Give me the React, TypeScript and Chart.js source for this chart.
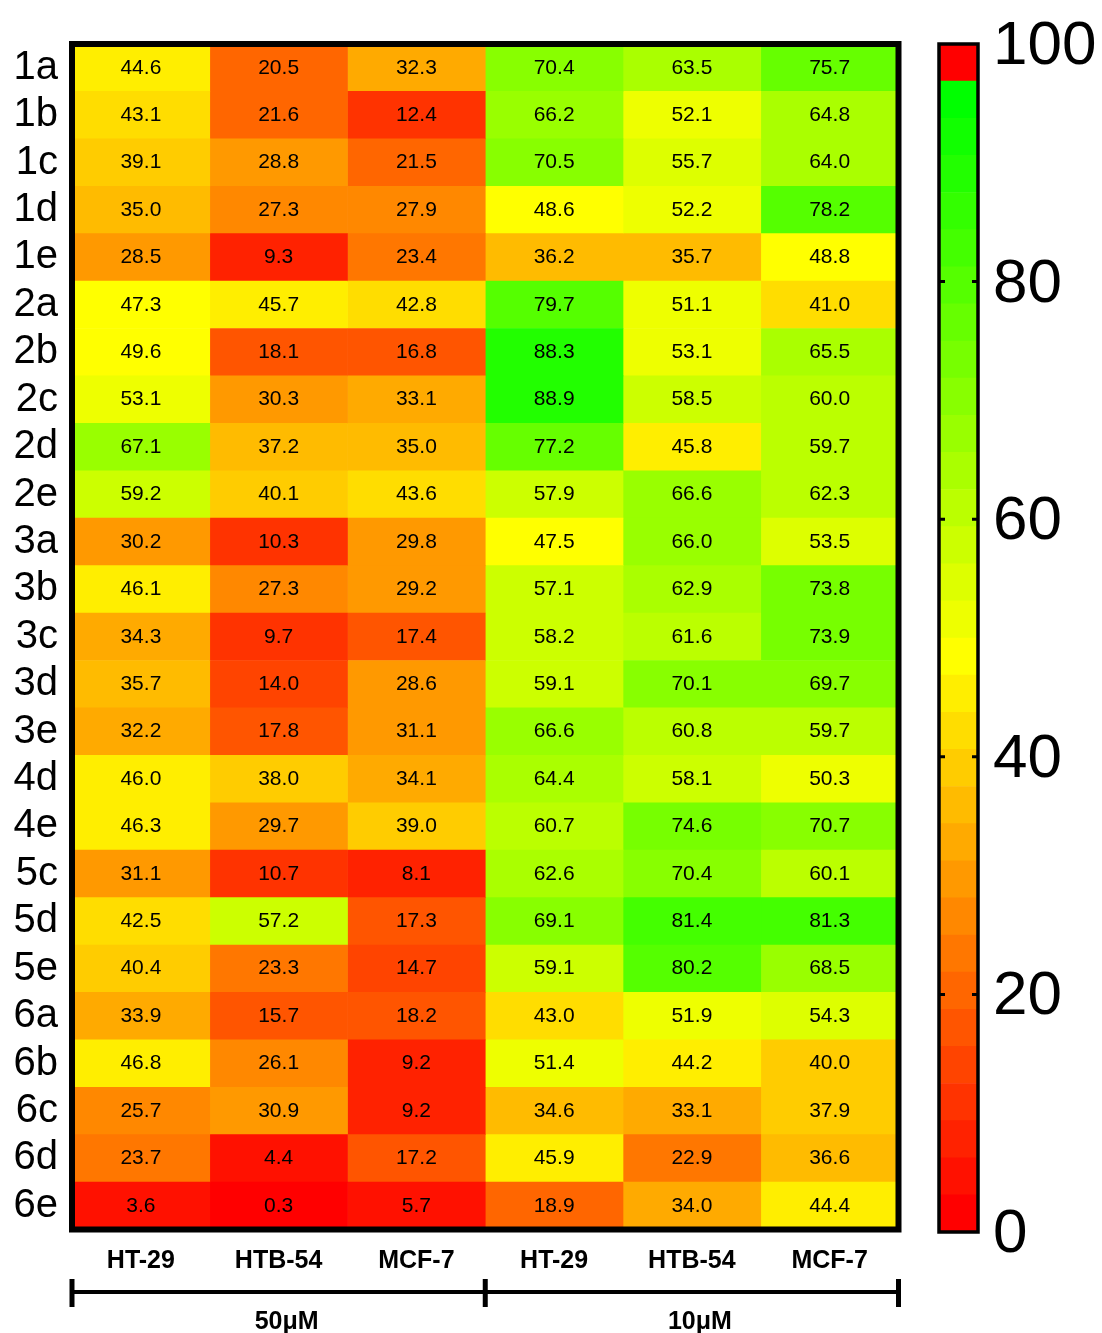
import React, { useEffect, useRef } from "react";
import { Chart, registerables } from "chart.js";

Chart.register(...registerables);

// ---------- data ----------
const ROWS = [
  "1a", "1b", "1c", "1d", "1e",
  "2a", "2b", "2c", "2d", "2e",
  "3a", "3b", "3c", "3d", "3e",
  "4d", "4e",
  "5c", "5d", "5e",
  "6a", "6b", "6c", "6d", "6e",
];

const COLUMNS = ["HT-29", "HTB-54", "MCF-7", "HT-29", "HTB-54", "MCF-7"];
const GROUPS = ["50\u03bcM", "10\u03bcM"];

const HT29_50 = [44.6, 43.1, 39.1, 35.0, 28.5, 47.3, 49.6, 53.1, 67.1, 59.2, 30.2, 46.1, 34.3, 35.7, 32.2, 46.0, 46.3, 31.1, 42.5, 40.4, 33.9, 46.8, 25.7, 23.7, 3.6];
const HTB54_50 = [20.5, 21.6, 28.8, 27.3, 9.3, 45.7, 18.1, 30.3, 37.2, 40.1, 10.3, 27.3, 9.7, 14.0, 17.8, 38.0, 29.7, 10.7, 57.2, 23.3, 15.7, 26.1, 30.9, 4.4, 0.3];
const MCF7_50 = [32.3, 12.4, 21.5, 27.9, 23.4, 42.8, 16.8, 33.1, 35.0, 43.6, 29.8, 29.2, 17.4, 28.6, 31.1, 34.1, 39.0, 8.1, 17.3, 14.7, 18.2, 9.2, 9.2, 17.2, 5.7];
const HT29_10 = [70.4, 66.2, 70.5, 48.6, 36.2, 79.7, 88.3, 88.9, 77.2, 57.9, 47.5, 57.1, 58.2, 59.1, 66.6, 64.4, 60.7, 62.6, 69.1, 59.1, 43.0, 51.4, 34.6, 45.9, 18.9];
const HTB54_10 = [63.5, 52.1, 55.7, 52.2, 35.7, 51.1, 53.1, 58.5, 45.8, 66.6, 66.0, 62.9, 61.6, 70.1, 60.8, 58.1, 74.6, 70.4, 81.4, 80.2, 51.9, 44.2, 33.1, 22.9, 34.0];
const MCF7_10 = [75.7, 64.8, 64.0, 78.2, 48.8, 41.0, 65.5, 60.0, 59.7, 62.3, 53.5, 73.8, 73.9, 69.7, 59.7, 50.3, 70.7, 60.1, 81.3, 68.5, 54.3, 40.0, 37.9, 36.6, 44.4];

const COLUMN_VALUES = [HT29_50, HTB54_50, MCF7_50, HT29_10, HTB54_10, MCF7_10];

const SCALE_MIN = 0;
const SCALE_MAX = 100;
const BAND_COUNT = 32;
const COLORBAR_TICKS = [0, 20, 40, 60, 80, 100];

// ---------- colours ----------
const FONT = "'Liberation Sans', Arial, Helvetica, sans-serif";
const BAND = (SCALE_MAX - SCALE_MIN) / BAND_COUNT;

function bandColor(i: number): string {
  if (i >= BAND_COUNT - 1) return "rgb(255,0,0)";
  const half = (BAND_COUNT - 2) / 2; // 15
  if (i <= half) {
    return `rgb(255,${Math.round((255 * i) / half)},0)`;
  }
  return `rgb(${Math.round((255 * (BAND_COUNT - 2 - i)) / half)},255,0)`;
}

function valueColor(v: number): string {
  const i = Math.max(0, Math.min(BAND_COUNT - 1, Math.floor((v - SCALE_MIN) / BAND)));
  return bandColor(i);
}

// ---------- plugins ----------
const cellLabels = {
  id: "cellLabels",
  afterDatasetsDraw(chart: any) {
    const ctx = chart.ctx;
    ctx.save();
    ctx.font = `21px ${FONT}`;
    ctx.fillStyle = "#000";
    ctx.textAlign = "center";
    ctx.textBaseline = "middle";
    chart.data.datasets.forEach((_ds: any, j: number) => {
      const meta = chart.getDatasetMeta(j);
      meta.data.forEach((el: any, r: number) => {
        const p = el.getProps(["x", "y", "base"], true);
        ctx.fillText(COLUMN_VALUES[j][r].toFixed(1), (p.x + p.base) / 2, p.y);
      });
    });
    ctx.restore();
  },
};

const frame = {
  id: "frame",
  afterDraw(chart: any, _args: any, opts: any) {
    const { ctx, chartArea: a } = chart;
    ctx.save();
    ctx.strokeStyle = "#000";
    ctx.lineWidth = opts.width || 6;
    ctx.strokeRect(a.left, a.top, a.right - a.left, a.bottom - a.top);
    ctx.restore();
  },
};

const groupBracket = {
  id: "groupBracket",
  afterDraw(chart: any) {
    const { ctx } = chart;
    const xs = chart.scales.x;
    const p0 = xs.getPixelForValue(0);
    const p1 = xs.getPixelForValue(3);
    const p2 = xs.getPixelForValue(6);
    const lineY = 1292;
    ctx.save();
    ctx.strokeStyle = "#000";
    ctx.lineWidth = 4;
    ctx.beginPath();
    ctx.moveTo(p0, lineY);
    ctx.lineTo(p2, lineY);
    ctx.stroke();
    ctx.lineWidth = 5;
    [p0, p1, p2].forEach((px) => {
      ctx.beginPath();
      ctx.moveTo(px, 1279);
      ctx.lineTo(px, 1307);
      ctx.stroke();
    });
    ctx.fillStyle = "#000";
    ctx.font = `bold 25px ${FONT}`;
    ctx.textAlign = "center";
    ctx.textBaseline = "middle";
    ctx.fillText(GROUPS[0], (p0 + p1) / 2 + 8, 1322);
    ctx.fillText(GROUPS[1], (p1 + p2) / 2 + 8, 1322);
    ctx.restore();
  },
};

const colorbarTicks = {
  id: "colorbarTicks",
  afterDraw(chart: any) {
    const { ctx, chartArea: a } = chart;
    const ys = chart.scales.y;
    ctx.save();
    ctx.strokeStyle = "#000";
    ctx.lineWidth = 3;
    COLORBAR_TICKS.filter((t) => t > SCALE_MIN && t < SCALE_MAX).forEach((t) => {
      const py = ys.getPixelForValue(t);
      ctx.beginPath();
      ctx.moveTo(a.left, py);
      ctx.lineTo(a.left + 6, py);
      ctx.moveTo(a.right - 6, py);
      ctx.lineTo(a.right, py);
      ctx.stroke();
    });
    ctx.restore();
  },
};

export default function App() {
  const mainRef = useRef<HTMLCanvasElement>(null);
  const barRef = useRef<HTMLCanvasElement>(null);

  useEffect(() => {
    Chart.defaults.color = "#000";
    const main = new Chart(mainRef.current as HTMLCanvasElement, {
      type: "bar",
      data: {
        labels: ROWS,
        datasets: COLUMN_VALUES.map((vals, j) => ({
          label: COLUMNS[j],
          data: vals.map(() => [j, j + 1]),
          backgroundColor: vals.map(valueColor),
          borderWidth: 0,
          barPercentage: 1,
          categoryPercentage: 1,
          grouped: false,
        })),
      } as any,
      options: {
        indexAxis: "y",
        responsive: false,
        animation: false,
        layout: { padding: { top: 44, right: 31.5, left: 0, bottom: 0 } },
        plugins: {
          legend: { display: false },
          tooltip: { enabled: false },
          frame: { width: 6 },
        } as any,
        scales: {
          x: {
            type: "linear",
            min: 0,
            max: COLUMNS.length,
            afterBuildTicks: (s: any) => {
              s.ticks = COLUMNS.map((_c, i) => ({ value: i + 0.5 }));
            },
            afterFit: (s: any) => {
              s.height = 103.5;
            },
            ticks: {
              autoSkip: false,
              maxRotation: 0,
              padding: 17,
              color: "#000",
              font: { family: FONT, size: 25, weight: "bold" },
              callback: (v: any) => COLUMNS[Math.floor(Number(v))],
            },
            grid: { display: false, drawTicks: false },
            border: { display: false },
          },
          y: {
            type: "category",
            afterFit: (s: any) => {
              s.width = 72;
            },
            ticks: {
              autoSkip: false,
              padding: 14,
              color: "#000",
              font: { family: FONT, size: 40 },
            },
            grid: { display: false, drawTicks: false },
            border: { display: false },
          },
        },
      } as any,
      plugins: [cellLabels, frame, groupBracket],
    });

    const bands = Array.from({ length: BAND_COUNT }, (_v, i) => i);
    const bar = new Chart(barRef.current as HTMLCanvasElement, {
      type: "bar",
      data: {
        labels: [""],
        datasets: bands.map((i) => ({
          data: [BAND],
          backgroundColor: bandColor(i),
          borderWidth: 0,
          barPercentage: 1,
          categoryPercentage: 1,
          stack: "cb",
        })),
      },
      options: {
        responsive: false,
        animation: false,
        layout: { padding: { top: 44, right: 0, left: 19, bottom: 101 } },
        plugins: {
          legend: { display: false },
          tooltip: { enabled: false },
          frame: { width: 3.5 },
        } as any,
        scales: {
          x: { display: false, stacked: true },
          y: {
            stacked: true,
            position: "right",
            min: SCALE_MIN,
            max: SCALE_MAX,
            afterBuildTicks: (s: any) => {
              s.ticks = COLORBAR_TICKS.map((t) => ({ value: t }));
            },
            afterFit: (s: any) => {
              s.width = 124;
              s.paddingTop = 0;
              s.paddingBottom = 0;
            },
            ticks: {
              padding: 15,
              labelOffset: 3,
              color: "#000",
              font: { family: FONT, size: 62, lineHeight: 0.8 },
            },
            grid: { display: false, drawTicks: false },
            border: { display: false },
          },
        },
      } as any,
      plugins: [frame, colorbarTicks],
    });

    return () => {
      main.destroy();
      bar.destroy();
    };
  }, []);

  return (
    <div style={{ position: "absolute", left: 0, top: 0, width: 1102, height: 1333, background: "#fff" }}>
      <canvas
        ref={mainRef}
        width={930}
        height={1333}
        style={{ position: "absolute", left: 0, top: 0, width: 930, height: 1333 }}
      />
      <canvas
        ref={barRef}
        width={182}
        height={1333}
        style={{ position: "absolute", left: 920, top: 0, width: 182, height: 1333 }}
      />
    </div>
  );
}
